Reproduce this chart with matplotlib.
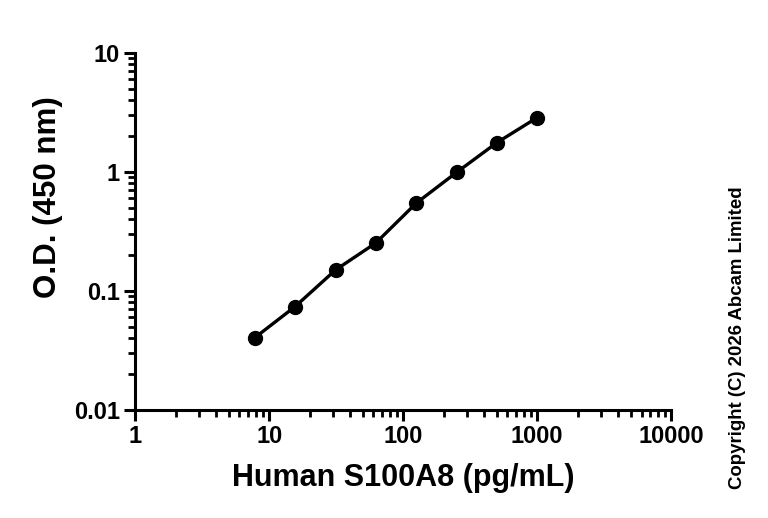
import matplotlib
matplotlib.use("Agg")
import matplotlib.pyplot as plt
from matplotlib.ticker import LogLocator, FixedLocator, FixedFormatter, NullFormatter

# standard curve data
conc = [7.8125, 15.625, 31.25, 62.5, 125, 250, 500, 1000]
od = [0.0405, 0.0740, 0.150, 0.253, 0.546, 0.99, 1.76, 2.86]

x_ticks = [1, 10, 100, 1000, 10000]
x_labels = ["1", "10", "100", "1000", "10000"]
y_ticks = [0.01, 0.1, 1, 10]
y_labels = ["0.01", "0.1", "1", "10"]

plt.rcParams['font.family'] = ['Liberation Sans', 'DejaVu Sans']
plt.rcParams['font.weight'] = 'bold'

fig = plt.figure(figsize=(7.68, 5.18), dpi=100)
ax = fig.add_axes([0.176, 0.2085, 0.698, 0.6895])

ax.plot(conc, od, color="black", lw=2.4, marker="o", markersize=10,
        markerfacecolor="black", markeredgecolor="black", clip_on=False)

ax.set_xscale("log")
ax.set_yscale("log")
ax.set_xlim(1, 10000)
ax.set_ylim(0.01, 10)

ax.xaxis.set_major_locator(FixedLocator(x_ticks))
ax.xaxis.set_major_formatter(FixedFormatter(x_labels))
ax.yaxis.set_major_locator(FixedLocator(y_ticks))
ax.yaxis.set_major_formatter(FixedFormatter(y_labels))
ax.xaxis.set_minor_locator(LogLocator(base=10, subs=range(2, 10), numticks=20))
ax.yaxis.set_minor_locator(LogLocator(base=10, subs=range(2, 10), numticks=20))
ax.xaxis.set_minor_formatter(NullFormatter())
ax.yaxis.set_minor_formatter(NullFormatter())

for side in ["top", "right"]:
    ax.spines[side].set_visible(False)
for side in ["left", "bottom"]:
    ax.spines[side].set_linewidth(2.2)

ax.tick_params(which="major", length=8, width=2.2, labelsize=17, pad=3)
ax.tick_params(which="minor", length=5, width=2.0)
for lbl in ax.get_xticklabels() + ax.get_yticklabels():
    lbl.set_fontweight("bold")

ax.set_xlabel("Human S100A8 (pg/mL)", fontsize=22, fontweight="bold")
ax.set_ylabel("O.D. (450 nm)", fontsize=22.5, fontweight="bold")
ax.xaxis.set_label_coords(0.5, -0.19)
ax.yaxis.set_label_coords(-0.162, 0.597)
ax.xaxis.label.set_va("center")
ax.yaxis.label.set_va("center")

fig.text(0.96, 0.349, "Copyright (C) 2026 Abcam Limited", rotation=90,
         fontsize=13.4, fontweight="bold", ha="center", va="center")

fig.savefig("out.png", dpi=100)
